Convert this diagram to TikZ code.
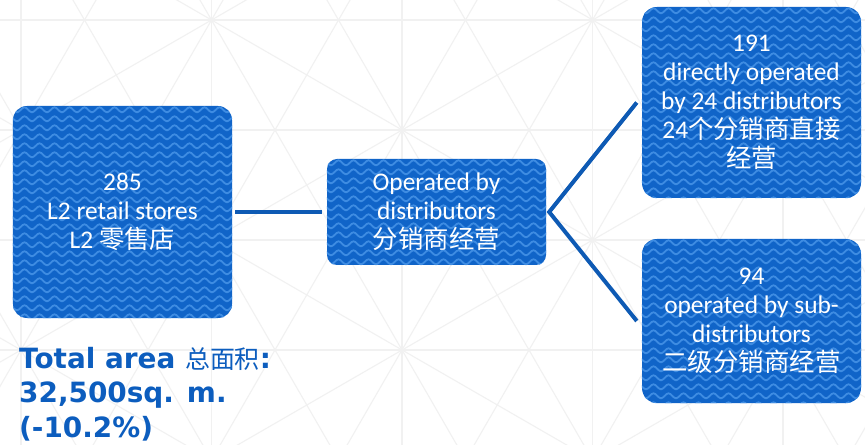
\documentclass[tikz,border=0pt]{standalone}
\usepackage{fontspec}
\setmainfont{Carlito}
\newfontfamily\cjk{Noto Sans CJK SC}
\newfontfamily\titlefont{DejaVu Sans Bold}
\usetikzlibrary{decorations.pathmorphing,calc}
\definecolor{boxblue}{RGB}{16,100,200}
\definecolor{wavecol}{RGB}{62,140,226}
\definecolor{linkblue}{RGB}{14,90,180}
\definecolor{titleblue}{RGB}{12,93,190}
\definecolor{bggray}{RGB}{241,241,241}
\tikzset{
  bgline/.style={draw=bggray,line width=1.1bp},
  box/.style={fill=boxblue,draw=none,rounded corners=#1,inner sep=0pt},
  wave/.style={draw=wavecol,line width=1.8bp,decorate,decoration={snake,amplitude=2.5bp,segment length=15bp}},
  boxtext/.style={text=white,align=center,inner sep=0pt,font=\fontsize{25.5}{29}\selectfont},
  titletext/.style={text=titleblue,align=left,inner sep=0pt,font=\titlefont\fontsize{28}{34.5}\selectfont},
  conn/.style={draw=linkblue,line width=4bp}
}
\newcommand\wavefill[3]{%
  \begin{scope}
    \clip[rounded corners=#2] (#1.north west) rectangle (#1.south east);
    \foreach \k in {0,...,#3}
      \draw[wave] ($(#1.north west)+(-8,{4+9*\k})$) -- ($(#1.north east)+(8,{4+9*\k})$);
  \end{scope}}
\begin{document}
\begin{tikzpicture}[x=1bp,y=-1bp]
\useasboundingbox (0,0) rectangle (865,445);
\fill[white] (0,0) rectangle (865,445);
% background geometric pattern
\begin{scope}
  \clip (0,0) rectangle (865,445);
  \foreach \yy in {20,130,240,350} \draw[bgline] (-10,\yy) -- (875,\yy);
  \foreach \xx in {21,211.5,402,592.5,783} \draw[bgline] (\xx,-10) -- (\xx,455);
  \foreach \j in {-6,...,6} {
    \draw[bgline] ({402+127*\j-100},{130-173.2}) -- ({402+127*\j+200},{130+346.4});
    \draw[bgline] ({402+127*\j+100},{130-173.2}) -- ({402+127*\j-200},{130+346.4});
  }
  \foreach \j in {-3,...,4} {
    \draw[bgline] (-18,{130+220*\j-242.5}) -- (882,{130+220*\j+277});
    \draw[bgline] (-18,{130+220*\j+242.5}) -- (882,{130+220*\j-277});
  }
\end{scope}
% boxes
\node[box=14bp,minimum width=219bp,minimum height=212bp] (a) at (122.5,212) {};
\node[box=10bp,minimum width=219bp,minimum height=106bp] (b) at (436.5,212) {};
\node[box=15bp,minimum width=219bp,minimum height=191bp] (c) at (751.5,102.5) {};
\node[box=15bp,minimum width=219bp,minimum height=164bp] (d) at (751.5,321) {};
\wavefill{a}{14bp}{24}
\wavefill{b}{10bp}{12}
\wavefill{c}{15bp}{21}
\wavefill{d}{15bp}{18}
% texts
\node[boxtext] (at) at (a) {285\\L2 retail stores\\L2 {\cjk 零售店}};
\node[boxtext] (bt) at (b) {Operated by\\distributors\\{\cjk 分销商经营}};
\node[boxtext] (ct) at (c) {191\\directly operated\\by 24 distributors\\24{\cjk 个分销商直接}\\{\cjk 经营}};
\node[boxtext] (dt) at (d) {94\\operated by sub-\\distributors\\{\cjk 二级分销商经营}};
\node[titletext,anchor=base west] (tt) at (19,437) {Total area {\cjk\fontsize{25}{34.5}\selectfont 总面积}:\\32,500sq. m.\\(-10.2\%)};
% connectors
\draw[conn] ([xshift=3bp]a.east) -- ([xshift=-5bp]b.west);
\draw[conn] ([xshift=-5bp]c.west) -- ([xshift=3bp]b.east) -- ([xshift=-5bp]d.west);
\end{tikzpicture}
\end{document}
